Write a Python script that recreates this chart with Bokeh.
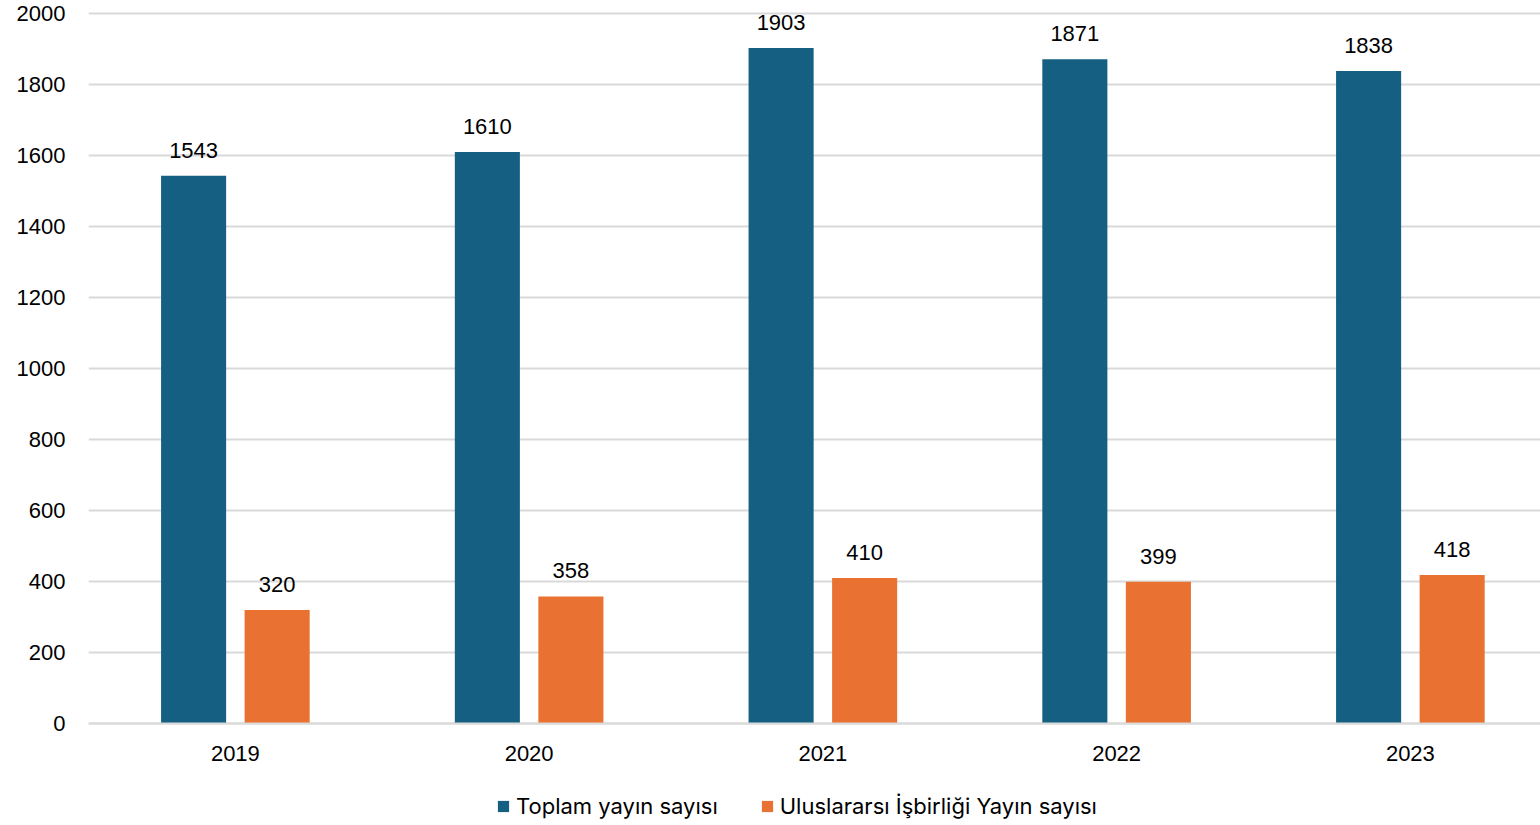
from bokeh.plotting import figure
from bokeh.models import ColumnDataSource, Range1d, FixedTicker, Legend, LegendItem, LabelSet
from bokeh.core.properties import value
from bokeh.embed import file_html
from bokeh.resources import INLINE

years = ["2019", "2020", "2021", "2022", "2023"]
toplam = [1543, 1610, 1903, 1871, 1838]
uluslararasi = [320, 358, 410, 399, 418]
series_names = ["Toplam yayın sayısı", "Uluslararsı İşbirliği Yayın sayısı"]
y_ticks = [0, 200, 400, 600, 800, 1000, 1200, 1400, 1600, 1800, 2000]

BLUE = "#156082"
ORANGE = "#E97132"
GRID = "#D9D9D9"
AXIS_FONT = "Liberation Sans"
AXIS_SIZE = "22px"

OFF = 0.1422   # half-distance between the two bars of a group (category units)
BW = 0.2215    # bar width (category units)

centers = [i + 0.5 for i in range(len(years))]
src = ColumnDataSource(dict(
    xc=centers,
    x1=[c - OFF for c in centers],
    x2=[c + OFF for c in centers],
    toplam=toplam,
    ulus=uluslararasi,
    toplam_lbl=[str(v) for v in toplam],
    ulus_lbl=[str(v) for v in uluslararasi],
))

# frame: left 88px, top 11px, to the figure's right and bottom edge
PX_PER_UNIT_Y = 710 / 2000
GROUP_PX = 293.75
p = figure(
    x_range=Range1d(0, (1540 - 88) / GROUP_PX),
    y_range=Range1d(-102 / PX_PER_UNIT_Y, 2000 + 2 / PX_PER_UNIT_Y),
    width=1540, height=825,
    output_backend="svg", toolbar_location=None,
    min_border_left=88, min_border_right=0, min_border_top=11, min_border_bottom=0,
    outline_line_color=None,
)

r1 = p.vbar(x="x1", top="toplam", width=BW, source=src, fill_color=BLUE, line_color=None)
r2 = p.vbar(x="x2", top="ulus", width=BW, source=src, fill_color=ORANGE, line_color=None)

for xcol, col in (("x1", "toplam"), ("x2", "ulus")):
    lbl = LabelSet(x=xcol, y=col, text=col + "_lbl", source=src,
                   text_align="center", text_baseline="alphabetic", y_offset=18,
                   text_font=value(AXIS_FONT), text_font_size=AXIS_SIZE, text_color="#000000")
    p.add_layout(lbl)

p.yaxis.ticker = FixedTicker(ticks=y_ticks)
p.yaxis.axis_line_color = None
p.yaxis.major_tick_line_color = None
p.yaxis.minor_tick_line_color = None
p.yaxis.major_tick_out = 0
p.yaxis.major_tick_in = 0
p.yaxis.major_label_text_font = AXIS_FONT
p.yaxis.major_label_text_font_size = AXIS_SIZE
p.yaxis.major_label_text_color = "#000000"
p.yaxis.major_label_standoff = 23

p.xaxis.ticker = FixedTicker(ticks=centers)
p.xaxis.major_label_overrides = {c: y for c, y in zip(centers, years)}
p.xaxis.fixed_location = 0
p.xaxis.axis_line_color = GRID
p.xaxis.axis_line_width = 2
p.xaxis.major_tick_line_color = None
p.xaxis.minor_tick_line_color = None
p.xaxis.major_tick_out = 0
p.xaxis.major_tick_in = 0
p.xaxis.major_label_text_font = AXIS_FONT
p.xaxis.major_label_text_font_size = AXIS_SIZE
p.xaxis.major_label_text_color = "#000000"
p.xaxis.major_label_standoff = 22

p.xgrid.grid_line_color = None
p.ygrid.grid_line_color = GRID
p.ygrid.grid_line_width = 2

legend = Legend(items=[LegendItem(label=series_names[0], renderers=[r1]),
                       LegendItem(label=series_names[1], renderers=[r2])],
                orientation="horizontal", location=(408, 6),
                label_text_font="Inter", label_text_font_size="22px",
                label_text_color="#000000",
                glyph_width=14, glyph_height=14, spacing=42, label_standoff=6,
                border_line_color=None, background_fill_alpha=0,
                padding=0, margin=0)
p.add_layout(legend, "center")

open("out.html", "w").write(file_html(p, INLINE))
